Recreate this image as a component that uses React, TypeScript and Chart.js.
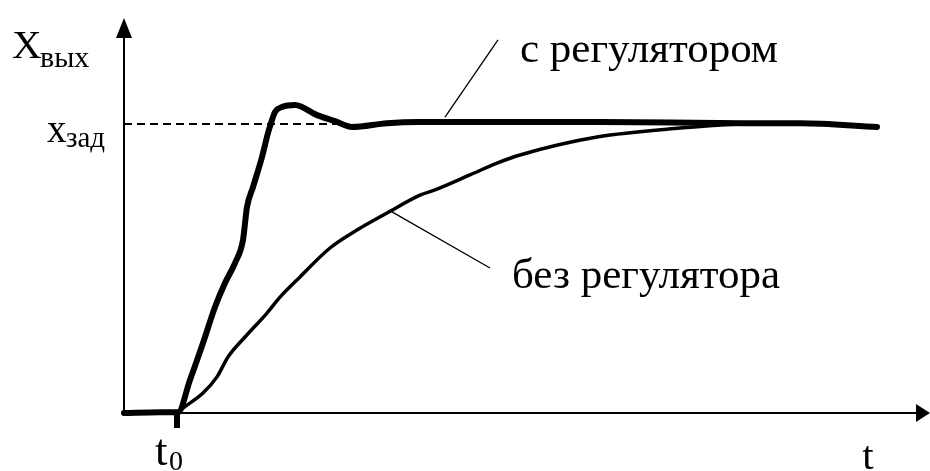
import React, { useEffect, useRef } from "react";
import { Chart, registerables } from "chart.js";

Chart.register(...registerables);

// time axis (t0 = 0), output normalised to the set-point (x_зад = 1)
const X_MIN = -1.06;
const X_MAX = 15.06;
const Y_MIN = 0;
const Y_MAX = 1.367;
const T0 = 0;
const SETPOINT = 1;

// "с регулятором" (with controller)
const WITH_T = [-1.06, -0.34, 0, 0.02, 0.26, 0.52, 0.76, 0.96, 1.16, 1.32, 1.4, 1.52, 1.7, 1.82, 1.9, 1.96, 2.1, 2.36, 2.8, 3.16, 3.5, 4.2, 4.86, 6.46, 8.46, 11.3, 12.46, 14.0];
const WITH_Y = [0, 0.003, 0.003, 0.003, 0.114, 0.242, 0.367, 0.45, 0.519, 0.599, 0.713, 0.782, 0.886, 0.969, 1.014, 1.042, 1.059, 1.066, 1.031, 1.01, 0.99, 1.003, 1.007, 1.007, 1.007, 1.003, 1.003, 0.99];

// "без регулятора" (without controller)
const WITHOUT_T = [0, 0.12, 0.52, 0.8, 1.02, 1.36, 1.8, 2.06, 2.46, 3.06, 3.6, 4.2, 4.86, 5.16, 5.86, 6.4, 6.86, 8.4, 10.06, 11.3, 11.86];
const WITHOUT_Y = [0, 0.017, 0.069, 0.125, 0.194, 0.263, 0.346, 0.401, 0.471, 0.571, 0.633, 0.692, 0.754, 0.772, 0.824, 0.865, 0.893, 0.955, 0.986, 1.0, 1.003];

// dashed set-point line
const SET_T = [X_MIN, 3.4];

// leader lines to the curve labels
const LEAD_UP_T = [6.42, 5.36];
const LEAD_UP_Y = [1.291, 1.024];
const LEAD_DOWN_T = [4.3, 6.26];
const LEAD_DOWN_Y = [0.696, 0.502];

// curve labels
const LABEL_WITH = "с регулятором";
const LABEL_WITHOUT = "без регулятора";
const LABEL_WITH_POS = [6.86, 1.215];
const LABEL_WITHOUT_POS = [6.7, 0.433];
const T_LABEL_POS = 13.82;

const SERIF = '"Liberation Serif", "Times New Roman", serif';

const zip = (xs: number[], ys: number[]) => xs.map((x, i) => ({ x, y: ys[i] }));

const decorPlugin = {
  id: "decor",
  afterDatasetsDraw(chart: any) {
    const { ctx, chartArea, scales } = chart;
    const xs = scales.x;
    const ys = scales.y;
    const ox = chartArea.left;
    const oy = chartArea.bottom;
    ctx.save();
    ctx.strokeStyle = "#000";
    ctx.fillStyle = "#000";
    ctx.lineWidth = 2;
    // y axis
    ctx.beginPath();
    ctx.moveTo(ox, oy);
    ctx.lineTo(ox, chartArea.top + 18);
    ctx.stroke();
    ctx.beginPath();
    ctx.moveTo(ox, chartArea.top);
    ctx.lineTo(ox - 8, chartArea.top + 20);
    ctx.lineTo(ox + 8, chartArea.top + 20);
    ctx.closePath();
    ctx.fill();
    // x axis
    ctx.beginPath();
    ctx.moveTo(ox, oy);
    ctx.lineTo(chartArea.right - 12, oy);
    ctx.stroke();
    ctx.beginPath();
    ctx.moveTo(chartArea.right, oy);
    ctx.lineTo(chartArea.right - 14, oy - 9);
    ctx.lineTo(chartArea.right - 14, oy + 9);
    ctx.closePath();
    ctx.fill();
    // t0 tick
    const t0x = xs.getPixelForValue(T0);
    ctx.fillRect(t0x - 3, oy, 6, 15);

    // texts
    ctx.textBaseline = "alphabetic";
    ctx.textAlign = "left";
    ctx.font = `41px ${SERIF}`;
    ctx.fillText("X", ox - 112, chartArea.top + 40);
    ctx.font = `30px ${SERIF}`;
    ctx.fillText("вых", ox - 84, chartArea.top + 49);

    const sy = ys.getPixelForValue(SETPOINT);
    ctx.font = `39px ${SERIF}`;
    ctx.fillText("x", ox - 77, sy + 18);
    ctx.font = `29px ${SERIF}`;
    ctx.fillText("зад", ox - 58, sy + 23);

    ctx.font = `45px ${SERIF}`;
    ctx.fillText("t", t0x - 22, oy + 52);
    ctx.font = `28px ${SERIF}`;
    ctx.fillText("0", t0x - 8, oy + 57);

    ctx.font = `41px ${SERIF}`;
    ctx.textAlign = "center";
    ctx.fillText("t", xs.getPixelForValue(T_LABEL_POS), oy + 56);

    ctx.textAlign = "left";
    ctx.font = `43px ${SERIF}`;
    ctx.fillText(LABEL_WITH, xs.getPixelForValue(LABEL_WITH_POS[0]), ys.getPixelForValue(LABEL_WITH_POS[1]));
    ctx.fillText(LABEL_WITHOUT, xs.getPixelForValue(LABEL_WITHOUT_POS[0]), ys.getPixelForValue(LABEL_WITHOUT_POS[1]));
    ctx.restore();
  },
};

export default function App() {
  const ref = useRef<HTMLCanvasElement>(null);
  useEffect(() => {
    if (!ref.current) return;
    const chart = new Chart(ref.current, {
      type: "line",
      data: {
        datasets: [
          {
            label: "x_зад",
            data: zip(SET_T, SET_T.map(() => SETPOINT)),
            borderColor: "#000",
            borderWidth: 2,
            borderDash: [8, 5],
            pointRadius: 0,
            tension: 0,
          },
          {
            label: "leader 1",
            data: zip(LEAD_UP_T, LEAD_UP_Y),
            borderColor: "#000",
            borderWidth: 1.3,
            pointRadius: 0,
            tension: 0,
          },
          {
            label: "leader 2",
            data: zip(LEAD_DOWN_T, LEAD_DOWN_Y),
            borderColor: "#000",
            borderWidth: 1.3,
            pointRadius: 0,
            tension: 0,
          },
          {
            label: LABEL_WITHOUT,
            data: zip(WITHOUT_T, WITHOUT_Y),
            borderColor: "#000",
            borderWidth: 3.5,
            pointRadius: 0,
            cubicInterpolationMode: "monotone",
            borderCapStyle: "round",
            borderJoinStyle: "round",
          },
          {
            label: LABEL_WITH,
            data: zip(WITH_T, WITH_Y),
            borderColor: "#000",
            borderWidth: 6,
            pointRadius: 0,
            cubicInterpolationMode: "monotone",
            borderCapStyle: "round",
            borderJoinStyle: "round",
          },
        ],
      },
      options: {
        animation: false,
        responsive: false,
        devicePixelRatio: 1,
        clip: false as any,
        layout: { padding: { left: 124, top: 18, right: 0, bottom: 58 } },
        plugins: { legend: { display: false }, tooltip: { enabled: false } },
        events: [],
        scales: {
          x: { type: "linear", min: X_MIN, max: X_MAX, display: false },
          y: { type: "linear", min: Y_MIN, max: Y_MAX, display: false },
        },
      },
      plugins: [decorPlugin],
    });
    return () => chart.destroy();
  }, []);
  return (
    <div style={{ position: "fixed", left: 0, top: 0, width: 930, height: 471, background: "#fff" }}>
      <canvas ref={ref} width={930} height={471} style={{ display: "block" }} />
    </div>
  );
}
